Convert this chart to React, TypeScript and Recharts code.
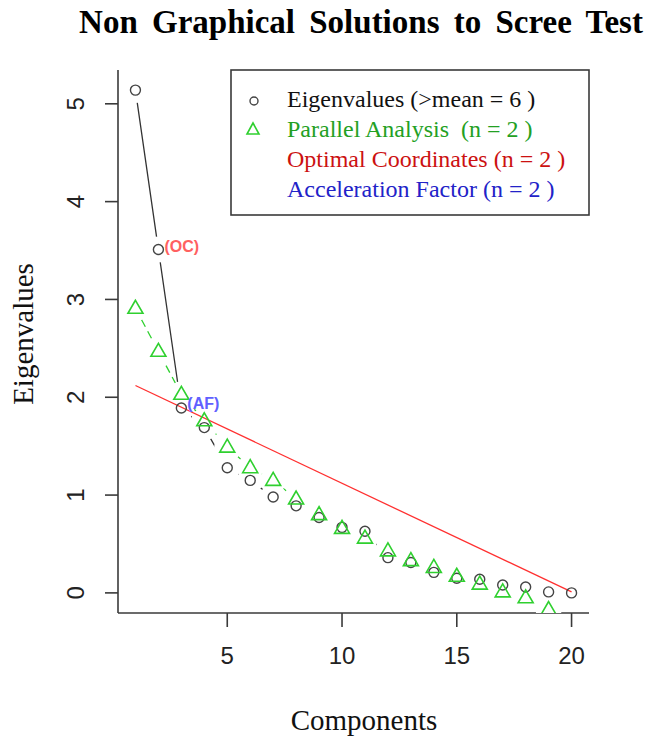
import React from "react";
import { ComposedChart, Scatter, XAxis, YAxis } from "recharts";

// component numbers 1..20
const components = [1, 2, 3, 4, 5, 6, 7, 8, 9, 10, 11, 12, 13, 14, 15, 16, 17, 18, 19, 20];
const eigenvalues = [
  5.14, 3.51, 1.89, 1.69, 1.28, 1.15, 0.98, 0.89, 0.77, 0.67,
  0.63, 0.36, 0.31, 0.21, 0.15, 0.14, 0.08, 0.06, 0.01, 0.0,
];
const parallelAnalysis = [
  2.91, 2.47, 2.03, 1.76, 1.49, 1.28, 1.15, 0.96, 0.8, 0.66,
  0.56, 0.43, 0.33, 0.26, 0.17, 0.09, 0.01, -0.05, -0.17, -0.34,
];
// optimal coordinates line: start and end
const ocComponents = [1, 20];
const ocValues = [2.12, 0.01];
const ocAt = 2;
const afAt = 3;

const xTicks = [5, 10, 15, 20];
const yTicks = [0, 1, 2, 3, 4, 5];

const legendLabels = [
  "Eigenvalues (>mean = 6 )",
  "Parallel Analysis  (n = 2 )",
  "Optimal Coordinates (n = 2 )",
  "Acceleration Factor (n = 2 )",
];
const legendColors = ["#111111", "#23a023", "#cc1111", "#2222c8"];

const eigenRows = components.map((c, i) => ({ comp: c, eigen: eigenvalues[i] }));
const paRows = components.map((c, i) => ({ comp: c, pa: parallelAnalysis[i] }));
const ocRows = ocComponents.map((c, i) => ({ comp: c, oc: ocValues[i] }));
const ocLabelRows = [{ comp: ocAt, eigen: eigenvalues[ocAt - 1] }];
const afLabelRows = [{ comp: afAt, eigen: eigenvalues[afAt - 1] }];

// R style axis extension (4%)
const xPad = (components[components.length - 1] - components[0]) * 0.04;
const xDomain = [components[0] - xPad, components[components.length - 1] + xPad];
const yMin = Math.min(...eigenvalues);
const yMax = Math.max(...eigenvalues);
const yPad = (yMax - yMin) * 0.04;
const yDomain = [yMin - yPad, yMax + yPad];

const SERIF = "'Liberation Serif', 'Times New Roman', serif";
const SANS = "'Liberation Sans', Arial, sans-serif";
const BOX = "#3a3a3a";
const GREEN = "#2fd02f";

const XTick = (props: any) => (
  <text x={props.x} y={props.y} dy={37} textAnchor="middle" fontSize={24} fontFamily={SANS} fill="#222">
    {props.payload.value}
  </text>
);

const YTick = (props: any) => {
  const x = props.x - 21;
  return (
    <text
      x={x}
      y={props.y}
      textAnchor="middle"
      fontSize={24}
      fontFamily={SANS}
      fill="#222"
      transform={`rotate(-90, ${x}, ${props.y})`}
    >
      {props.payload.value}
    </text>
  );
};

const circleShape = (p: any) => (
  <circle cx={p.cx} cy={p.cy} r={5} fill="none" stroke="#444" strokeWidth={1.4} />
);

const triangleShape = (p: any) => (
  <polygon
    points={`${p.cx},${p.cy - 8} ${p.cx - 7.5},${p.cy + 5} ${p.cx + 7.5},${p.cy + 5}`}
    fill="none"
    stroke={GREEN}
    strokeWidth={1.6}
  />
);

// white disc behind each marker, gives the R type="b" gap in the lines
const haloShape = (p: any) => <circle cx={p.cx} cy={p.cy} r={13} fill="#fff" />;

const noShape = () => <g />;

const ocLabel = (p: any) => (
  <text x={p.cx + 6} y={p.cy + 2} fontSize={16} fontWeight="bold" fontFamily={SANS} fill="#ff6060">
    (OC)
  </text>
);

const afLabel = (p: any) => (
  <text x={p.cx + 6} y={p.cy + 1} fontSize={16} fontWeight="bold" fontFamily={SANS} fill="#6060ff">
    (AF)
  </text>
);

const App = () => {
  return (
    <div style={{ position: "absolute", left: 0, top: 0, width: 651, height: 740, background: "#fff" }}>
      <ComposedChart width={651} height={740} margin={{ top: 70, right: 62, bottom: 67, left: 0 }}>
        <XAxis
          dataKey="comp"
          type="number"
          domain={xDomain}
          ticks={xTicks}
          allowDataOverflow
          height={60}
          tickSize={14}
          tickMargin={0}
          tick={XTick}
          axisLine={{ stroke: BOX, strokeWidth: 1.6 }}
          tickLine={{ stroke: BOX, strokeWidth: 1.6 }}
        />
        <XAxis
          xAxisId="top"
          orientation="top"
          dataKey="comp"
          type="number"
          domain={xDomain}
          allowDataOverflow
          height={0}
          tick={false}
          tickLine={false}
          axisLine={{ stroke: BOX, strokeWidth: 1.6 }}
        />
        <YAxis
          type="number"
          domain={yDomain}
          ticks={yTicks}
          allowDataOverflow
          width={118}
          tickSize={13}
          tickMargin={0}
          tick={YTick}
          axisLine={{ stroke: BOX, strokeWidth: 1.6 }}
          tickLine={{ stroke: BOX, strokeWidth: 1.6 }}
        />
        <YAxis
          yAxisId="right"
          orientation="right"
          type="number"
          domain={yDomain}
          allowDataOverflow
          width={0}
          tick={false}
          tickLine={false}
          axisLine={{ stroke: BOX, strokeWidth: 1.6 }}
        />
        <Scatter
          data={eigenRows}
          dataKey="eigen"
          shape={noShape}
          line={{ stroke: "#333", strokeWidth: 1.3 }}
          isAnimationActive={false}
        />
        <Scatter
          data={paRows}
          dataKey="pa"
          shape={noShape}
          line={{ stroke: GREEN, strokeWidth: 1.3, strokeDasharray: "8 5" }}
          isAnimationActive={false}
        />
        <Scatter data={eigenRows} dataKey="eigen" shape={haloShape} isAnimationActive={false} />
        <Scatter data={paRows} dataKey="pa" shape={haloShape} isAnimationActive={false} />
        <Scatter
          data={ocRows}
          dataKey="oc"
          shape={noShape}
          line={{ stroke: "#ff3030", strokeWidth: 1.3 }}
          isAnimationActive={false}
        />
        <Scatter data={eigenRows} dataKey="eigen" shape={circleShape} isAnimationActive={false} />
        <Scatter data={paRows} dataKey="pa" shape={triangleShape} isAnimationActive={false} />
        <Scatter data={ocLabelRows} dataKey="eigen" shape={ocLabel} isAnimationActive={false} />
        <Scatter data={afLabelRows} dataKey="eigen" shape={afLabel} isAnimationActive={false} />
      </ComposedChart>

      <svg
        width={651}
        height={740}
        style={{ position: "absolute", left: 0, top: 0, pointerEvents: "none" }}
      >
        <text
          x={361}
          y={33}
          textAnchor="middle"
          fontSize={33}
          fontWeight="bold"
          fontFamily={SERIF}
          wordSpacing={6}
          fill="#000"
        >
          Non Graphical Solutions to Scree Test
        </text>
        <text x={364} y={730} textAnchor="middle" fontSize={29} fontFamily={SERIF} fill="#111">
          Components
        </text>
        <text
          x={33}
          y={334}
          textAnchor="middle"
          fontSize={29}
          fontFamily={SERIF}
          fill="#111"
          transform="rotate(-90, 33, 334)"
        >
          Eigenvalues
        </text>

        {/* legend */}
        <rect x={231} y={70} width={358} height={145} fill="#fff" stroke={BOX} strokeWidth={1.6} />
        <circle cx={254} cy={101} r={4} fill="none" stroke="#444" strokeWidth={1.4} />
        <polygon points="253,123 247,134 259,134" fill="none" stroke={GREEN} strokeWidth={1.6} />
        {legendLabels.map((label, i) => (
          <text
            key={label}
            x={287}
            y={107 + i * 30}
            fontSize={24}
            fontFamily={SERIF}
            fill={legendColors[i]}
            style={{ whiteSpace: "pre" }}
          >
            {label}
          </text>
        ))}
      </svg>
    </div>
  );
};

export default App;
